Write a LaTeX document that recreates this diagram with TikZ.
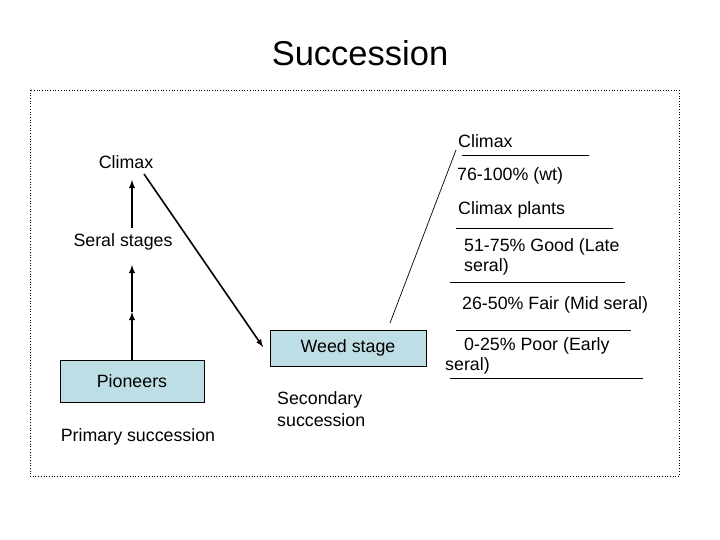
\documentclass[tikz,border=0pt]{standalone}
\usepackage{fontspec}
\setmainfont{Liberation Sans}
\definecolor{boxblue}{RGB}{189,222,228}
\begin{document}
\begin{tikzpicture}[x=1pt,y=-1pt,
  txt/.style={inner sep=0pt,font=\fontsize{17.8}{21.5}\selectfont},
  lt/.style={txt,anchor=west},
  stagebox/.style={draw,fill=boxblue,line width=1pt},
  arr/.style={-latex,line width=1.8pt},
  rule/.style={line width=0.9pt}]
\useasboundingbox (0,0) rectangle (720,540);
\draw[dotted,line width=0.7pt] (30,90) rectangle (679,476);
\node[txt,font=\fontsize{34.5}{40}\selectfont] (title) at (360,53) {Succession};
\node[stagebox,minimum width=144pt,minimum height=42pt,inner sep=0pt] (pio) at (132,381) {};
\node[txt] (piot) at (132,381) {Pioneers};
\node[stagebox,minimum width=156pt,minimum height=36pt,inner sep=0pt] (weed) at (348,348) {};
\node[txt] (weedt) at (348,348) {Weed stage};
\node[txt] (clim) at (126,162) {Climax};
\node[txt] (seral) at (123,242) {Seral stages};
\node[txt] (prim) at (138,437) {Primary succession};
\node[txt,align=left,anchor=west] (sec) at (277,409) {Secondary\\succession};
\coordinate (mid) at (132,312);
\coordinate (a1) at (132,228);
\coordinate (a1e) at (132,180);
\coordinate (a2e) at (132,265);
\draw[arr] (pio.north -| mid) -- (mid);
\draw[arr] (mid) -- (a2e);
\draw[arr] (a1) -- (a1e);
\coordinate (d1) at (144,174);
\coordinate (d2) at (263,347);
\draw[arr,line width=1.6pt] (d1) -- (d2);
\coordinate (t1) at (456,150);
\coordinate (t2) at (390,323);
\draw[line width=0.7pt] (t1) -- (t2);
\node[lt] (r1) at (458,141) {Climax};
\draw[rule] (462,155) -- (589,155);
\node[lt] (r2) at (457,176) {76-100\% (wt)};
\node[lt] (r3) at (458,210) {Climax plants};
\draw[rule] (456,228) -- (613,228);
\node[lt] (r4) at (464,247) {51-75\% Good (Late};
\node[lt] (r4b) at (464,267) {seral)};
\draw[rule] (450,282) -- (625,282);
\node[lt] (r5) at (462,305) {26-50\% Fair (Mid seral)};
\draw[rule] (456,330) -- (631,330);
\node[lt] (r6) at (464,346) {0-25\% Poor (Early};
\node[lt] (r6b) at (445,366) {seral)};
\draw[rule] (450,378) -- (643,378);
\end{tikzpicture}
\end{document}
